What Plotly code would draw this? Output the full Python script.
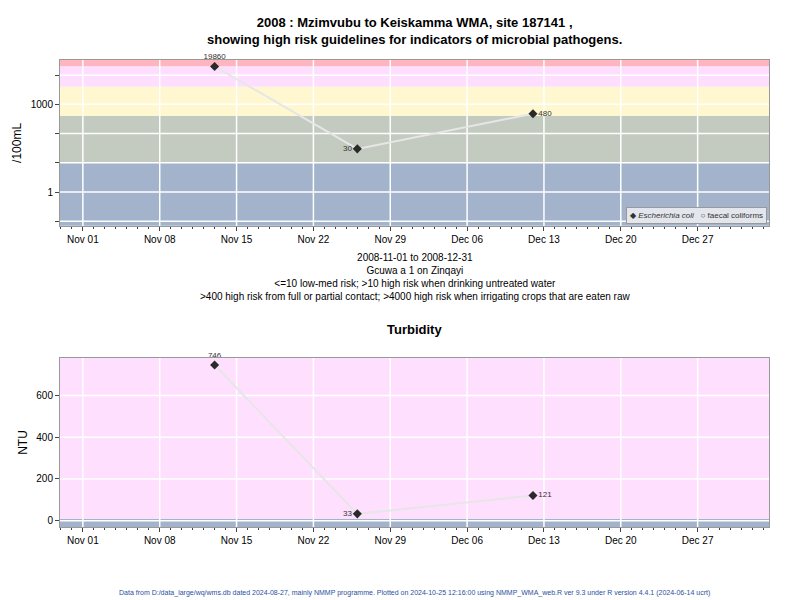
import math
import plotly.graph_objects as go
from plotly.subplots import make_subplots

DATES = ["2008-11-13", "2008-11-26", "2008-12-12"]
ECOLI = [19860, 30, 480]
ECOLI_LABELS = ["19860", "30", "480"]
TURB = [746, 33, 121]
TURB_LABELS = ["746", "33", "121"]
XTICKS = ["2008-11-01", "2008-11-08", "2008-11-15", "2008-11-22", "2008-11-29",
          "2008-12-06", "2008-12-13", "2008-12-20", "2008-12-27"]
XTICK_TEXT = ["Nov 01", "Nov 08", "Nov 15", "Nov 22", "Nov 29",
              "Dec 06", "Dec 13", "Dec 20", "Dec 27"]
ECOLI_GRID = [0.1, 1, 10, 100, 1000, 10000]
ECOLI_TICKTEXT = ["", "1", "", "", "1000", ""]
TURB_GRID = [0, 200, 400, 600]
# microbial risk bands (value limits, colours)
ECOLI_BANDS = [(0.05, 10, "#a2b3cb"), (10, 400, "#c3cbc0"), (400, 4000, "#fef7cf"),
               (4000, 20000, "#fedefe"), (20000, 40000, "#fdb6c0")]
TURB_BANDS = [(-40, 10, "#a2b3cb"), (10, 800, "#fee0fe")]

FONT = "Liberation Sans, Arial"
XRANGE = ["2008-10-29 22:00", "2009-01-02 12:00"]

fig = make_subplots(rows=2, cols=1)

shapes = []
for lo, hi, col in ECOLI_BANDS:
    shapes.append(dict(type="rect", xref="x domain", yref="y", x0=0, x1=1,
                       y0=lo, y1=hi, fillcolor=col, line_width=0, layer="below"))
for lo, hi, col in TURB_BANDS:
    shapes.append(dict(type="rect", xref="x2 domain", yref="y2", x0=0, x1=1,
                       y0=lo, y1=hi, fillcolor=col, line_width=0, layer="below"))
# grid lines drawn over the bands
for xr, yr in (("x", "y"), ("x2", "y2")):
    for d in XTICKS:
        shapes.append(dict(type="line", xref=xr, yref=yr + " domain", x0=d, x1=d,
                           y0=0, y1=1, line=dict(color="white", width=1.5), layer="below"))
for v in ECOLI_GRID:
    shapes.append(dict(type="line", xref="x domain", yref="y", x0=0, x1=1, y0=v, y1=v,
                       line=dict(color="white", width=1.5), layer="below"))
for v in TURB_GRID:
    shapes.append(dict(type="line", xref="x2 domain", yref="y2", x0=0, x1=1, y0=v, y1=v,
                       line=dict(color="white", width=1.5), layer="below"))

for row, ys, labels in ((1, ECOLI, ECOLI_LABELS), (2, TURB, TURB_LABELS)):
    fig.add_trace(go.Scatter(x=DATES, y=ys, mode="lines+markers+text", text=labels,
                             textposition=["top center", "middle left", "middle right"],
                             textfont=dict(size=8, color="#333"), cliponaxis=False,
                             line=dict(color="#e6e6e6", width=2),
                             marker=dict(symbol="diamond", size=7, color="#2a2a2a"),
                             showlegend=False), row=row, col=1)

fig.update_xaxes(range=XRANGE, tickvals=XTICKS, ticktext=XTICK_TEXT, ticks="outside",
                 ticklen=4, showgrid=False, automargin=False,
                 showline=True, linecolor="#999", mirror=True, zeroline=False,
                 minor=dict(dtick=86400000, ticks="outside", ticklen=2, showgrid=False),
                 tickfont=dict(size=10))
fig.update_yaxes(row=1, col=1, type="log", range=[math.log10(0.07), math.log10(33000)],
                 tickvals=ECOLI_GRID, ticktext=ECOLI_TICKTEXT, automargin=False,
                 ticks="outside", ticklen=4, showgrid=False,
                 showline=True, linecolor="#999", mirror=True,
                 title=dict(text="/100mL", font=dict(size=12), standoff=6),
                 tickfont=dict(size=10))
fig.update_yaxes(row=2, col=1, range=[-30, 780], tickvals=TURB_GRID, automargin=False,
                 ticks="outside", ticklen=4, showgrid=False,
                 showline=True, linecolor="#999", mirror=True,
                 zeroline=False, title=dict(text="NTU", font=dict(size=12), standoff=6),
                 tickfont=dict(size=10))

ann = [
    dict(text="<b>2008 : Mzimvubu to Keiskamma WMA, site 187141 ,<br>"
              "showing high risk guidelines for indicators of microbial pathogens.</b>",
         x=0.5, y=1.0, yshift=11, xref="paper", yref="paper", yanchor="bottom",
         showarrow=False, font=dict(size=13)),
    dict(text="2008-11-01 to 2008-12-31<br>Gcuwa a 1 on Zinqayi<br>"
              "<=10 low-med risk; >10 high risk when drinking untreated water<br>"
              ">400 high risk from full or partial contact; >4000 high risk when irrigating crops that are eaten raw",
         x=0.5, y=0.593, xref="paper", yref="paper", yanchor="top",
         showarrow=False, font=dict(size=10)),
    dict(text="<b>Turbidity</b>", x=0.5, y=0.362, yshift=19, xref="paper", yref="paper",
         yanchor="bottom", showarrow=False, font=dict(size=13)),
    dict(text="Data from D:/data_large/wq/wms.db dated 2024-08-27, mainly NMMP programme. "
              "Plotted on 2024-10-25 12:16:00 using NMMP_WMA_web.R ver 9.3 under R version 4.4.1 (2024-06-14 ucrt)",
         x=0.5, y=-0.143, yshift=-5, xref="paper", yref="paper", showarrow=False,
         font=dict(size=7, color="#2b4fa0")),
    dict(text="\u25c6 <i>Escherichia coli</i>   \u25cb faecal coliforms",
         x=1, y=0.645, xref="paper", yref="paper", xanchor="right", yanchor="bottom",
         xshift=-2, yshift=2, showarrow=False, bgcolor="#e3e6ec", bordercolor="#999",
         borderwidth=1, borderpad=3, font=dict(size=8, color="#333")),
]

fig.update_layout(
    width=800, height=600, plot_bgcolor="white", paper_bgcolor="white",
    margin=dict(l=52, r=39, t=52, b=81),
    font=dict(family=FONT, color="black"),
    shapes=shapes, annotations=ann, showlegend=False,
    yaxis=dict(domain=[0.645, 1]), yaxis2=dict(domain=[0, 0.362]),
)

fig.write_html("out.html")
